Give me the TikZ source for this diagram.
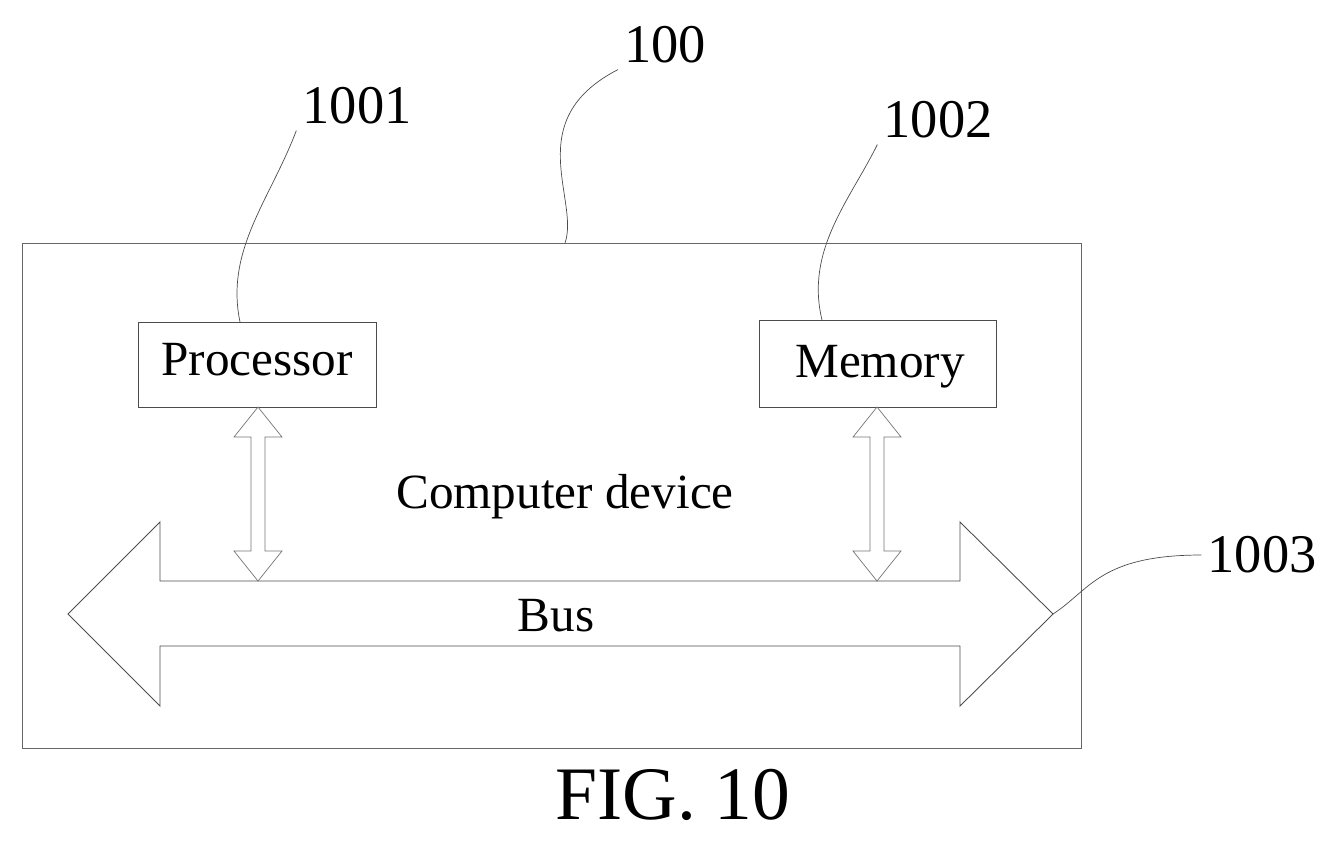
\documentclass[tikz,border=0pt]{standalone}
\usepackage{fontspec}
\setmainfont{Liberation Serif}
\begin{document}
\begin{tikzpicture}[x=0.02cm,y=-0.02cm,
  box/.style={draw=black!70, line width=0.5pt, inner sep=0pt},
  lbl/.style={font=\fontsize{31}{36}\selectfont},
  txt/.style={font=\fontsize{28}{32}\selectfont},
  leader/.style={draw=black!70, line width=0.4pt}]
  \useasboundingbox (0,0) rectangle (1341,840);
  % Outer device frame
  \draw[draw=black!60, line width=0.4pt] (22,243) rectangle (1081,748);
  \node[txt] (dev) at (565,497) {Computer device};
  % Processor and memory
  \node[box, minimum width=4.76cm, minimum height=1.7cm] (proc) at (257,364.5) {};
  \node[txt] at (proc) {\strut Processor};
  \node[box, minimum width=4.74cm, minimum height=1.74cm] (mem) at (877.5,363.5) {};
  \node[txt] at (880,366) {\strut Memory};
  % Bus
  \draw[draw=black!70, line width=0.5pt]
    (68,614) -- (160,522) -- (160,581) -- (960,581) -- (960,522) -- (1053,614)
    -- (960,706) -- (960,646) -- (160,646) -- (160,706) -- cycle;
  \node[txt] (bus) at (556,616) {Bus};
  \coordinate (bustip) at (1053,614);
  % Double arrows to bus
  \foreach \cx in {258,877}{
    \draw[draw=black!55, line width=0.4pt]
      (\cx,407) -- (\cx+24,437) -- (\cx+7,437) -- (\cx+7,551) -- (\cx+24,551)
      -- (\cx,581) -- (\cx-24,551) -- (\cx-7,551) -- (\cx-7,437) -- (\cx-24,437) -- cycle;
  }
  % Reference labels
  \node[lbl] (l100) at (665,45) {100};
  \node[lbl] (l1001) at (357,106) {1001};
  \node[lbl] (l1002) at (938,120) {1002};
  \node[lbl] (l1003) at (1262,555) {1003};
  \coordinate (frametop) at (565,243);
  \coordinate (proctop) at (240,322);
  \coordinate (memtop) at (822,320);
  \path[leader] (frametop) .. controls (580,200) and (520,120) .. (l100.south west);
  \path[leader] (proctop) .. controls (225,250) and (270,200) .. (l1001.south west);
  \path[leader] (memtop) .. controls (805,250) and (850,200) .. (l1002.south west);
  \path[leader] (bustip) .. controls (1090,590) and (1100,555) .. (l1003.west);
  % Caption
  \node[font=\fontsize{43}{48}\selectfont] (fig) at (673,795) {FIG. 10};
\end{tikzpicture}
\end{document}
